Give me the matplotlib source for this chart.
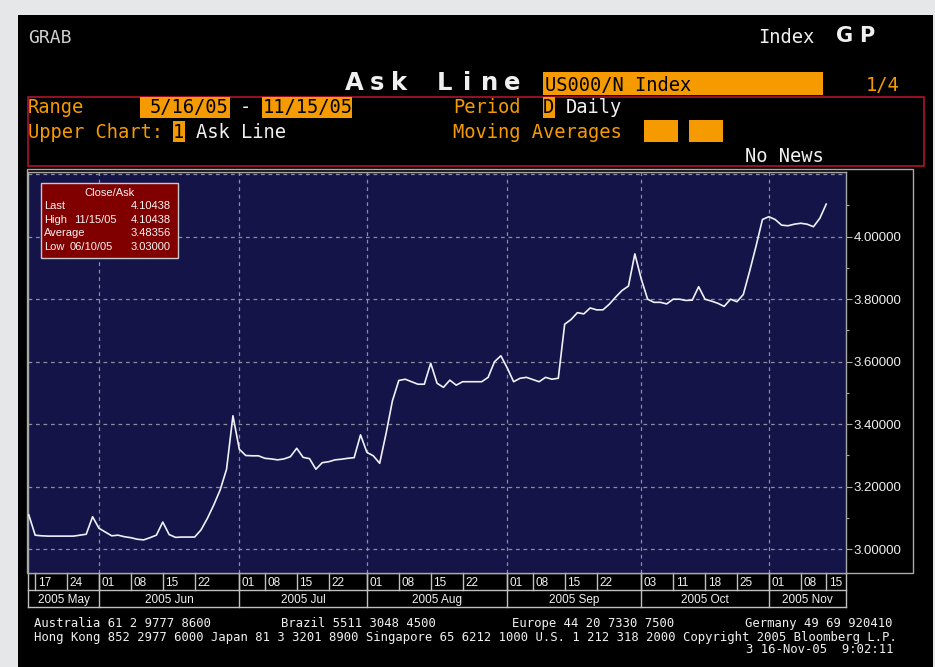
import numpy as np
import pandas as pd
import matplotlib
matplotlib.use('Agg')
import matplotlib.pyplot as plt
import matplotlib.transforms as mtransforms
from matplotlib.patches import Rectangle

W, H = 935, 667

# US000/N Index fixing days, 5/16/05 - 11/15/05 (no fixing on these holidays)
holidays = ['2005-05-30', '2005-07-04', '2005-08-29', '2005-09-05', '2005-10-10', '2005-11-11']
dates = pd.bdate_range('2005-05-16', '2005-11-15')
dates = dates[~dates.isin(pd.to_datetime(holidays))]

# close/ask values
ask = [3.110, 3.045, 3.043, 3.042, 3.042, 3.042, 3.042, 3.042, 3.045, 3.048,
       3.104, 3.067, 3.055, 3.043, 3.045, 3.040, 3.037, 3.032, 3.030, 3.037,
       3.045, 3.087, 3.047, 3.038, 3.039, 3.039, 3.039, 3.062, 3.099, 3.142,
       3.190, 3.256, 3.427, 3.320, 3.300, 3.299, 3.299, 3.291, 3.289, 3.286,
       3.289, 3.296, 3.323, 3.294, 3.290, 3.256, 3.277, 3.280, 3.286, 3.288,
       3.291, 3.293, 3.366, 3.310, 3.299, 3.275, 3.370, 3.475, 3.540, 3.544,
       3.536, 3.528, 3.528, 3.595, 3.531, 3.518, 3.541, 3.525, 3.536, 3.536,
       3.536, 3.536, 3.550, 3.600, 3.619, 3.580, 3.536, 3.547, 3.550, 3.543,
       3.536, 3.550, 3.544, 3.547, 3.720, 3.735, 3.757, 3.753, 3.772, 3.766,
       3.766, 3.784, 3.807, 3.828, 3.842, 3.945, 3.865, 3.800, 3.790, 3.790,
       3.785, 3.800, 3.800, 3.796, 3.797, 3.840, 3.800, 3.794, 3.787, 3.777,
       3.800, 3.792, 3.815, 3.890, 3.970, 4.055, 4.064, 4.055, 4.037, 4.035,
       4.040, 4.043, 4.040, 4.032, 4.059, 4.10438]

week_labels = ['2005-05-17', '2005-05-24', '2005-06-01', '2005-06-08', '2005-06-15',
               '2005-06-22', '2005-07-01', '2005-07-08', '2005-07-15', '2005-07-22',
               '2005-08-01', '2005-08-08', '2005-08-15', '2005-08-22', '2005-09-01',
               '2005-09-08', '2005-09-15', '2005-09-22', '2005-10-03', '2005-10-11',
               '2005-10-18', '2005-10-25', '2005-11-01', '2005-11-08', '2005-11-15']

ORANGE = '#f59b00'
WHITE = '#f0f0f0'
GREY = '#a8a8a8'
MONO = 'DejaVu Sans Mono'
SANS = 'Liberation Sans'

fig = plt.figure(figsize=(W / 100, H / 100), dpi=100, facecolor='#e6e7e8')

# background layer in screen pixels
bg = fig.add_axes([0, 0, 1, 1], zorder=0)
bg.set_xlim(0, W)
bg.set_ylim(H, 0)
bg.axis('off')
bg.add_patch(Rectangle((18, 15), 915, 660, facecolor='black', edgecolor='none'))
bg.add_patch(Rectangle((27, 168.5), 886, 404, facecolor='none', edgecolor=GREY, lw=1))
bg.add_patch(Rectangle((28, 96.5), 896, 69.5, facecolor='none', edgecolor='#b0142d', lw=1.2))

# chart
ax = fig.add_axes([28 / W, 1 - 573 / H, (846 - 28) / W, (573 - 172) / H], zorder=2)
ax.set_facecolor('#141448')
x = np.arange(len(dates))
ax.plot(x, ask, color='#f0f0f8', lw=1.2, zorder=3)
ax.set_xlim(-0.125, 128.1)
ax.set_ylim(2.924, 4.207)

months = dates.to_period('M')
starts = np.flatnonzero(np.r_[True, months[1:] != months[:-1]])

dash = (0, (3, 3))
for s in starts[1:]:
    ax.axvline(s, color='#8c8c9c', lw=0.9, ls=dash, zorder=1)
for v in np.arange(3.0, 4.21, 0.2):
    ax.axhline(v, color='#8c8c9c', lw=0.9, ls=dash, zorder=1)

ax.set_xticks([])
ax.yaxis.tick_right()
ax.set_yticks(np.arange(3.0, 4.01, 0.2))
ax.set_yticks(np.arange(3.1, 4.11, 0.2), minor=True)
ax.yaxis.set_major_formatter(matplotlib.ticker.FormatStrFormatter('%.5f'))
ax.tick_params(axis='y', which='major', direction='out', length=4.5, width=0.8,
               color=GREY, labelcolor=WHITE, labelsize=9.5, pad=1, labelfontfamily=SANS)
ax.tick_params(axis='y', which='minor', direction='out', length=2.5, width=0.8, color=GREY)
for sp in ax.spines.values():
    sp.set_color(GREY)
    sp.set_linewidth(1)

# date bands under the chart
trans = mtransforms.blended_transform_factory(ax.transData, ax.transAxes)
r1, r2 = -17 / 401, -34 / 401
band = dict(color='#c0c0c0', lw=1, clip_on=False)
ax.plot([0, 1], [r1, r1], transform=ax.transAxes, **band)
ax.plot([0, 1], [r2, r2], transform=ax.transAxes, **band)
ax.plot([0, 0], [0, r2], transform=ax.transAxes, **band)
ax.plot([1, 1], [0, r2], transform=ax.transAxes, **band)
for d in week_labels:
    i = dates.get_loc(pd.Timestamp(d))
    ax.plot([i, i], [0, r1], transform=trans, **band)
    ax.text(i + 0.4, -13 / 401, pd.Timestamp(d).strftime('%d'), transform=trans,
            ha='left', va='baseline', color=WHITE, fontsize=8.5, family=SANS)
bounds = [ax.get_xlim()[0]] + list(starts[1:]) + [ax.get_xlim()[1]]
for k, s in enumerate(starts):
    if k > 0:
        ax.plot([s, s], [0, r2], transform=trans, **band)
    ax.text((bounds[k] + bounds[k + 1]) / 2, -30 / 401, dates[s].strftime('%Y %b'),
            transform=trans, ha='center', va='baseline', color=WHITE, fontsize=8.5, family=SANS)

# foreground: terminal text, legend box
fg = fig.add_axes([0, 0, 1, 1], zorder=5)
fg.set_xlim(0, W)
fg.set_ylim(H, 0)
fg.axis('off')
fg.patch.set_alpha(0)


def term(x0, y0, s, color=WHITE, size=13.5, **kw):
    fg.text(x0, y0, s, color=color, fontsize=size, family=MONO, ha='left', va='baseline', **kw)


def obox(x0, y0, w, h):
    fg.add_patch(Rectangle((x0, y0), w, h, facecolor=ORANGE, edgecolor='none'))


term(28, 43, 'GRAB', color='#d0d0d0', size=13)
term(758, 43, 'Index', size=13.5)
for ch, cx in zip('GP', [845, 867]):
    fg.text(cx, 42, ch, color=WHITE, fontsize=15, family='DejaVu Sans', weight='bold',
            ha='center', va='baseline')
for k, ch in enumerate('Ask Line'):
    fg.text(354 + k * 22.6, 90.5, ch, color=WHITE, fontsize=17.5, family='DejaVu Sans',
            weight='bold', ha='center', va='baseline')
obox(543, 72, 280, 23)
term(545, 91, 'US000/N Index', color='black')
fg.text(900, 91, '1/4', color=ORANGE, fontsize=13.5, family=MONO, ha='right', va='baseline')

term(28, 113, 'Range', color=ORANGE)
obox(140, 97, 90, 21)
term(150, 113, '5/16/05', color='black')
term(240, 113, '-')
obox(262, 97, 90, 21)
term(263, 113, '11/15/05', color='black')
term(453, 113, 'Period', color=ORANGE)
obox(543, 97, 12, 21)
term(543, 113, 'D', color='black')
term(566, 113, 'Daily')

term(28, 137.5, 'Upper Chart:', color=ORANGE)
obox(173, 121, 12, 21)
term(173, 137.5, '1', color='black')
term(196, 137.5, 'Ask Line')
term(453, 137.5, 'Moving Averages', color=ORANGE)
obox(644, 120, 34, 22)
obox(689, 120, 34, 22)
term(745, 161.5, 'No News')

# legend box
fg.add_patch(Rectangle((40.5, 182.5), 137.5, 75.5, facecolor='#800000', edgecolor='#c8c8c8', lw=1))
leg = dict(color='#f4f4f4', fontsize=8, family=SANS, va='baseline')
fg.text(109.5, 195.5, 'Close/Ask', ha='center', **leg)
rows = [('Last', '', '4.10438'), ('High', '11/15/05', '4.10438'),
        ('Average', '', '3.48356'), ('Low', '06/10/05', '3.03000')]
for k, (lab, dt, val) in enumerate(rows):
    yb = 209 + k * 13.7
    fg.text(44, yb, lab, ha='left', **leg)
    if dt:
        fg.text(74 if lab == 'High' else 70, yb, dt, ha='left', **leg)
    fg.text(171, yb, val, ha='right', **leg)

# footer
foot = 8.8
term(34, 627, 'Australia 61 2 9777 8600', size=foot)
term(281, 627, 'Brazil 5511 3048 4500', size=foot)
term(512, 627, 'Europe 44 20 7330 7500', size=foot)
term(745, 627, 'Germany 49 69 920410', size=foot)
term(34, 641, 'Hong Kong 852 2977 6000 Japan 81 3 3201 8900 Singapore 65 6212 1000 '
              'U.S. 1 212 318 2000 Copyright 2005 Bloomberg L.P.', size=foot)
fg.text(893, 653, '3 16-Nov-05  9:02:11', color=WHITE, fontsize=foot, family=MONO,
        ha='right', va='baseline')

fig.savefig('out.png', dpi=100, facecolor=fig.get_facecolor())
